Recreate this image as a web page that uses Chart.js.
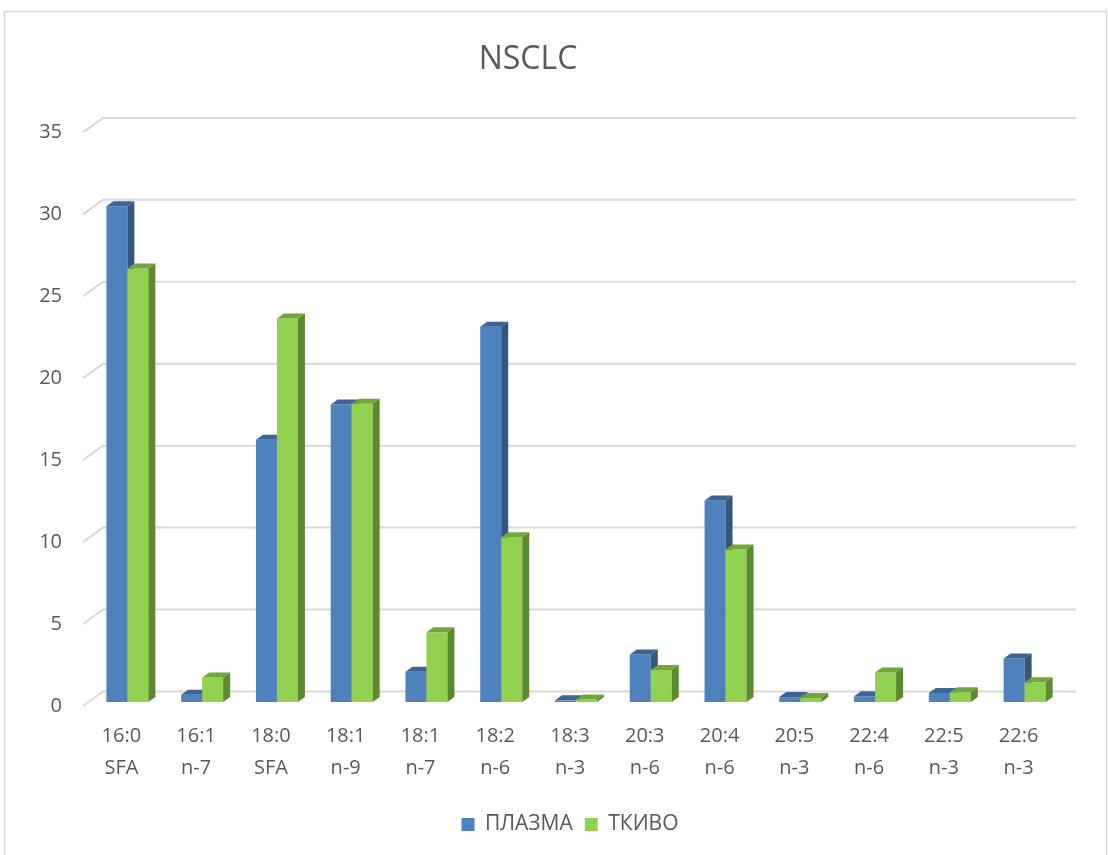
<!DOCTYPE html>
<html>
<head>
<meta charset="utf-8">
<script src="https://cdn.jsdelivr.net/npm/chart.js@4.4.1/dist/chart.umd.min.js"></script>
<style>
  html, body { margin: 0; padding: 0; background: #ffffff; }
  #wrap { width: 1108px; height: 855px; position: relative; }
</style>
</head>
<body>
<div id="wrap"><canvas id="c" width="1108" height="855"></canvas></div>
<script>
// Fatty acid categories (two-line labels)
const categories = [
  ['16:0', 'SFA'], ['16:1', 'n-7'], ['18:0', 'SFA'], ['18:1', 'n-9'], ['18:1', 'n-7'],
  ['18:2', 'n-6'], ['18:3', 'n-3'], ['20:3', 'n-6'], ['20:4', 'n-6'], ['20:5', 'n-3'],
  ['22:4', 'n-6'], ['22:5', 'n-3'], ['22:6', 'n-3']
];
const plasma = [30.25, 0.45, 16.0, 18.15, 1.85, 22.9, 0.1, 2.9, 12.3, 0.3, 0.35, 0.55, 2.65];
const tissue = [26.45, 1.5, 23.4, 18.2, 4.25, 10.05, 0.15, 1.95, 9.3, 0.25, 1.8, 0.6, 1.2];
const yTicks = [0, 5, 10, 15, 20, 25, 30, 35];

const FONT = "'Open Sans', 'Noto Sans', sans-serif";
const TEXT = '#595959';
const GRID = '#D9D9D9';

// colours for front / top / side faces of each series
const faces = [
  { front: '#4F81BD', top: '#3C6596', side: '#34577F' },
  { front: '#92D050', top: '#72A53C', side: '#5D8A2E' }
];

// depth of the back wall relative to the front plane, and bar depth
const WALL_DX = 20, WALL_DY = -14.5;
const BAR_OX = 6, BAR_OY = -4;     // bar front face offset inside the floor
const BAR_DX = 7, BAR_DY = -5;     // bar depth

const frame = {
  id: 'frame',
  beforeDraw(chart) {
    const ctx = chart.ctx;
    ctx.save();
    ctx.strokeStyle = GRID;
    ctx.lineWidth = 1.5;
    ctx.beginPath();
    ctx.moveTo(4.5, 870);
    ctx.lineTo(4.5, 11.5);
    ctx.lineTo(1106.5, 11.5);
    ctx.lineTo(1106.5, 870);
    ctx.stroke();
    ctx.restore();
  }
};

const wall = {
  id: 'wall',
  beforeDatasetsDraw(chart) {
    const ctx = chart.ctx, area = chart.chartArea, ys = chart.scales.y;
    ctx.save();
    ctx.strokeStyle = GRID;
    ctx.lineWidth = 2;
    yTicks.forEach(v => {
      const yf = ys.getPixelForValue(v);
      ctx.beginPath();
      ctx.moveTo(area.left - 1, yf);
      ctx.lineTo(area.left + WALL_DX - 1, yf + WALL_DY);
      ctx.lineTo(area.right + WALL_DX, yf + WALL_DY);
      ctx.stroke();
    });
    ctx.restore();
  }
};

const bars3d = {
  id: 'bars3d',
  beforeDatasetsDraw(chart) {
    const ctx = chart.ctx;
    const metas = chart.data.datasets.map((d, i) => chart.getDatasetMeta(i));
    ctx.save();
    for (let i = 0; i < categories.length; i++) {
      metas.forEach((meta, d) => {
        const el = meta.data[i];
        if (!el) return;
        const f = faces[d];
        const xl = el.x - el.width / 2 + BAR_OX;
        const xr = el.x + el.width / 2 + BAR_OX;
        const yt = el.y + BAR_OY;
        const yb = el.base + BAR_OY;
        // front
        ctx.fillStyle = f.front;
        ctx.fillRect(xl, yt, xr - xl, yb - yt);
        // top
        ctx.fillStyle = f.top;
        ctx.beginPath();
        ctx.moveTo(xl, yt);
        ctx.lineTo(xl + BAR_DX, yt + BAR_DY);
        ctx.lineTo(xr + BAR_DX, yt + BAR_DY);
        ctx.lineTo(xr, yt);
        ctx.closePath();
        ctx.fill();
        // side
        ctx.fillStyle = f.side;
        ctx.beginPath();
        ctx.moveTo(xr, yt);
        ctx.lineTo(xr + BAR_DX, yt + BAR_DY);
        ctx.lineTo(xr + BAR_DX, yb + BAR_DY);
        ctx.lineTo(xr, yb);
        ctx.closePath();
        ctx.fill();
      });
    }
    ctx.restore();
    return false; // faces above replace the flat bars
  }
};

new Chart(document.getElementById('c'), {
  type: 'bar',
  data: {
    labels: categories,
    datasets: [
      { label: 'ПЛАЗМА', data: plasma, backgroundColor: faces[0].front },
      { label: 'ТКИВО', data: tissue, backgroundColor: faces[1].front }
    ]
  },
  options: {
    responsive: false,
    animation: false,
    events: [],
    layout: { padding: { left: 0, right: 52, top: 0, bottom: 10 } },
    datasets: { bar: { categoryPercentage: 0.5615, barPercentage: 1.0 } },
    scales: {
      x: {
        grid: { display: false, drawTicks: false },
        border: { display: false },
        ticks: {
          color: TEXT, padding: 14, maxRotation: 0, autoSkip: false,
          font: { family: FONT, size: 20, lineHeight: 1.6 }
        },
        afterFit(scale) { scale.height = 96; }
      },
      y: {
        min: 0, max: 35,
        afterBuildTicks(scale) { scale.ticks = yTicks.map(v => ({ value: v })); },
        grid: { display: false, drawTicks: false },
        border: { display: false },
        ticks: { color: TEXT, padding: 22, font: { family: FONT, size: 20 } },
        afterFit(scale) { scale.width = 84; }
      }
    },
    plugins: {
      title: {
        display: true, text: 'NSCLC', color: TEXT,
        font: { family: FONT, size: 32, weight: 'normal', lineHeight: 1.2 },
        padding: { top: 41, bottom: 53 }
      },
      legend: {
        position: 'bottom',
        fullSize: false,
        labels: {
          color: TEXT, boxWidth: 13, boxHeight: 13, padding: 12,
          font: { family: FONT, size: 21 }
        }
      },
      tooltip: { enabled: false }
    }
  },
  plugins: [frame, wall, bars3d]
});
</script>
</body>
</html>
